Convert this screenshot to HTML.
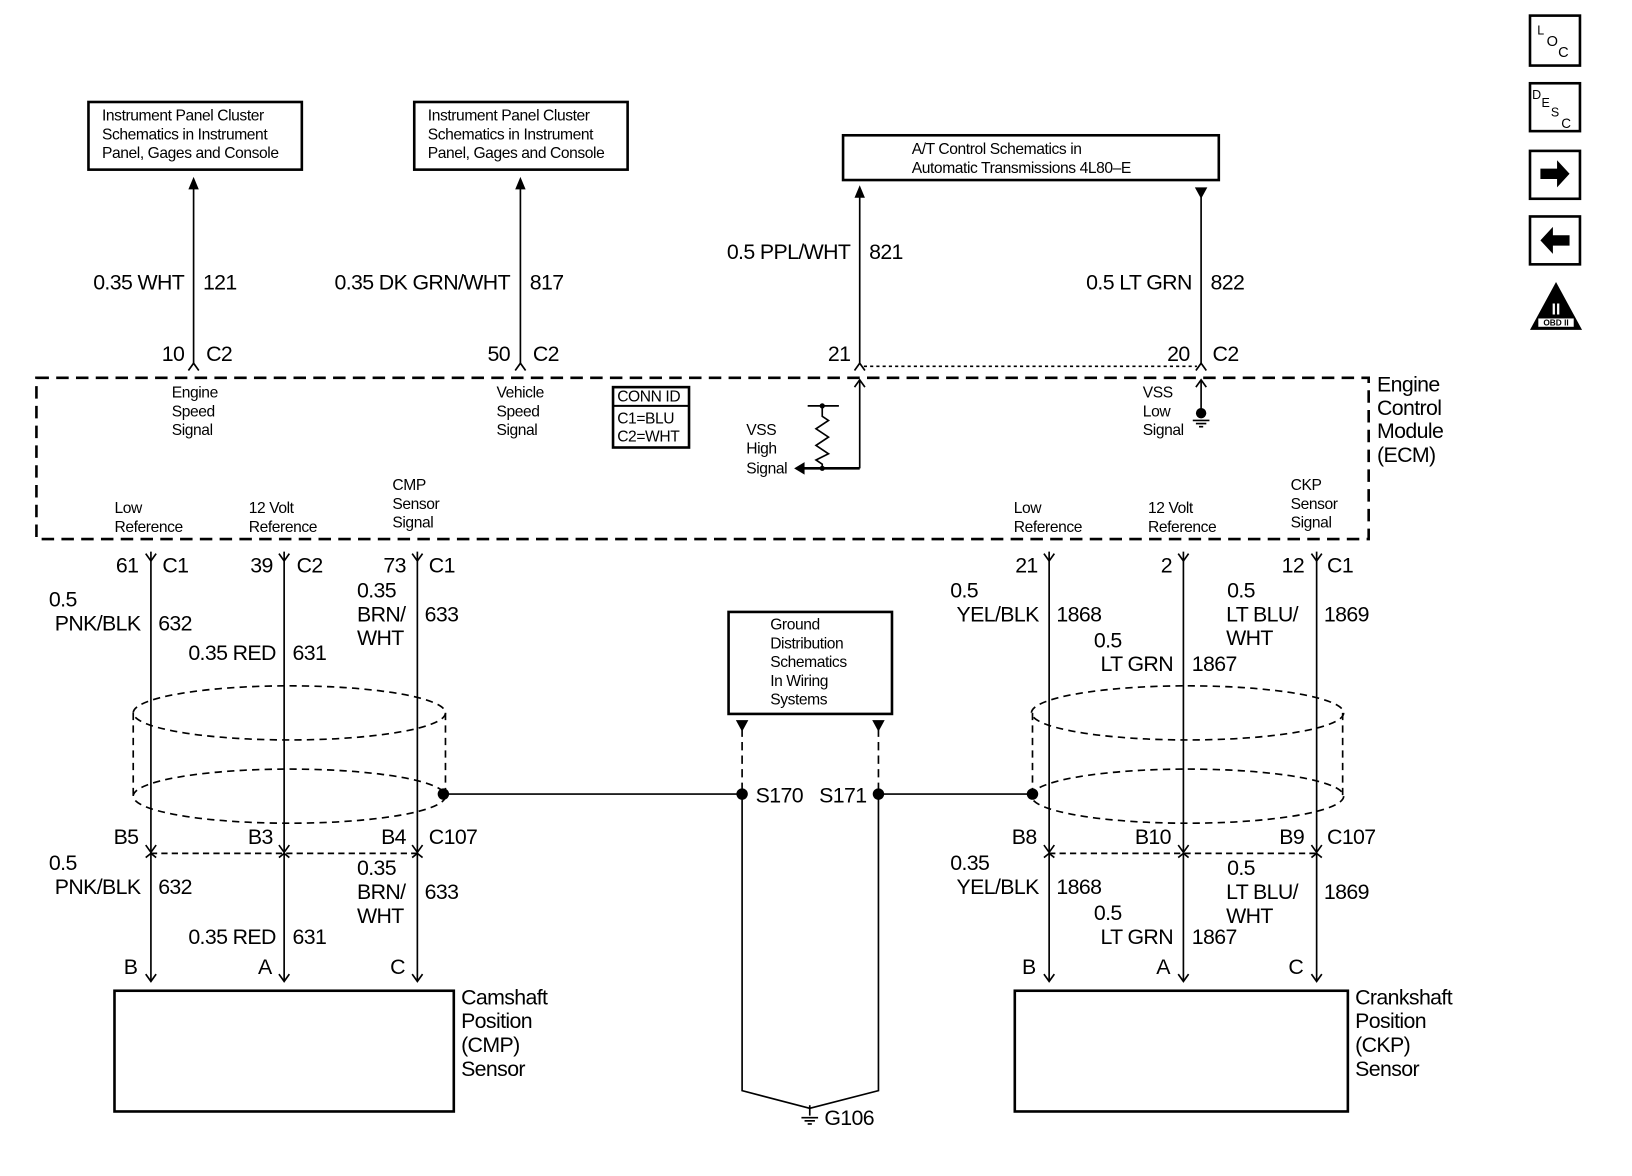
<!DOCTYPE html>
<html><head><meta charset="utf-8"><style>
html,body{margin:0;padding:0;background:#fff;}
svg{display:block}
text{font-family:"Liberation Sans",sans-serif;fill:#000}
.w{font-size:20.5px;letter-spacing:-0.6px}
.s{font-size:15px;letter-spacing:-0.4px}
</style></head><body>
<svg width="1632" height="1176" viewBox="0 0 1568 1130" preserveAspectRatio="none" xmlns="http://www.w3.org/2000/svg">
<g stroke="#000" stroke-width="1.6" fill="none">
<rect x="85" y="98" width="205" height="65" stroke-width="2.5"/>
<rect x="398" y="98" width="205" height="65" stroke-width="2.5"/>
<rect x="810" y="130" width="361" height="43" stroke-width="2.5"/>
<line x1="186" y1="174" x2="186" y2="350"/>
<line x1="500" y1="174" x2="500" y2="350"/>
<line x1="826" y1="182" x2="826" y2="350"/>
<line x1="1154" y1="182" x2="1154" y2="350"/>
<line x1="830" y1="352" x2="1150" y2="352" stroke-dasharray="3,3"/>
<path d="M181 356 L186 349 L191 356 M495 356 L500 349 L505 356 M821 356 L826 349 L831 356 M1149 356 L1154 349 L1159 356"/>
<rect x="35" y="363" width="1280" height="155" stroke-width="2.5" stroke-dasharray="12,7"/>
<rect x="589" y="372" width="73" height="58" stroke-width="2.5"/>
<line x1="589" y1="390" x2="662" y2="390" stroke-width="2"/>
<line x1="826" y1="366" x2="826" y2="450"/>
<path d="M821 372 L826 365 L831 372"/>
<line x1="770" y1="450" x2="826" y2="450" stroke-width="2.5"/>
<line x1="776" y1="390" x2="806" y2="390"/>
<path d="M790 390 L790 400 L796 404 L784 412 L796 420 L784 428 L796 436 L784 442 L790 446 L790 450"/>
<line x1="1154" y1="366" x2="1154" y2="396"/>
<path d="M1149 372 L1154 365 L1159 372"/>
<line x1="1146" y1="404" x2="1162" y2="404"/><line x1="1149" y1="407" x2="1159" y2="407"/><line x1="1152" y1="410" x2="1156" y2="410"/>
<line x1="145" y1="530" x2="145" y2="942"/>
<line x1="273" y1="530" x2="273" y2="942"/>
<line x1="401" y1="530" x2="401" y2="942"/>
<line x1="1008" y1="530" x2="1008" y2="942"/>
<line x1="1137" y1="530" x2="1137" y2="942"/>
<line x1="1265" y1="530" x2="1265" y2="942"/>
<path d="M140 532 L145 539 L150 532 M268 532 L273 539 L278 532 M396 532 L401 539 L406 532 M1003 532 L1008 539 L1013 532 M1132 532 L1137 539 L1142 532 M1260 532 L1265 539 L1270 532"/>
<path d="M140 812 L145 819 L150 812 M268 812 L273 819 L278 812 M396 812 L401 819 L406 812 M1003 812 L1008 819 L1013 812 M1132 812 L1137 819 L1142 812 M1260 812 L1265 819 L1270 812"/>
<path d="M140 824 L145 820 L150 824 M268 824 L273 820 L278 824 M396 824 L401 820 L406 824 M1003 824 L1008 820 L1013 824 M1132 824 L1137 820 L1142 824 M1260 824 L1265 820 L1270 824"/>
<path d="M140 936 L145 943 L150 936 M268 936 L273 943 L278 936 M396 936 L401 943 L406 936 M1003 936 L1008 943 L1013 936 M1132 936 L1137 943 L1142 936 M1260 936 L1265 943 L1270 936"/>
<line x1="145" y1="820" x2="401" y2="820" stroke-dasharray="6,4"/>
<line x1="1008" y1="820" x2="1265" y2="820" stroke-dasharray="6,4"/>
<g stroke-dasharray="7,5">
<ellipse cx="278" cy="685" rx="150" ry="26"/>
<ellipse cx="278" cy="765" rx="150" ry="26"/>
<line x1="128" y1="685" x2="128" y2="765"/>
<line x1="428" y1="685" x2="428" y2="765"/>
<ellipse cx="1141" cy="685" rx="150" ry="26"/>
<ellipse cx="1141" cy="765" rx="150" ry="26"/>
<line x1="992" y1="685" x2="992" y2="765"/>
<line x1="1290" y1="685" x2="1290" y2="765"/>
</g>
<line x1="426" y1="763" x2="713" y2="763"/>
<line x1="844" y1="763" x2="992" y2="763"/>
<rect x="700" y="588" width="157" height="98" stroke-width="2.5"/>
<line x1="713" y1="700" x2="713" y2="763" stroke-dasharray="8,5"/>
<line x1="844" y1="700" x2="844" y2="763" stroke-dasharray="8,5"/>
<path d="M713 763 L713 1048 L778 1065 M844 763 L844 1048 L778 1065"/>
<line x1="778" y1="1062" x2="778" y2="1072"/>
<line x1="770" y1="1074" x2="786" y2="1074"/><line x1="773" y1="1077" x2="783" y2="1077"/><line x1="776" y1="1080" x2="780" y2="1080"/>
<rect x="110" y="952" width="326" height="116" stroke-width="2.5"/>
<rect x="975" y="952" width="320" height="116" stroke-width="2.5"/>
<rect x="1470" y="15" width="48" height="48" stroke-width="2.5"/>
<rect x="1470" y="80" width="48" height="46" stroke-width="2.5"/>
<rect x="1470" y="145" width="48" height="46" stroke-width="2.5"/>
<rect x="1470" y="208" width="48" height="46" stroke-width="2.5"/>
</g>
<g fill="#000">
<path d="M181 182 L186 170 L191 182Z M495 182 L500 170 L505 182Z M821 190 L826 178 L831 190Z M1148 180 L1160 180 L1154 191Z"/>
<path d="M763 450 L773 444 L773 456Z"/>
<circle cx="790" cy="390" r="2.5"/><circle cx="790" cy="450" r="2.5"/>
<circle cx="1154" cy="397" r="5"/>
<circle cx="426" cy="763" r="5.5"/><circle cx="713" cy="763" r="5.5"/><circle cx="844" cy="763" r="5.5"/><circle cx="992" cy="763" r="5.5"/>
<path d="M707 692 L719 692 L713 703Z M838 692 L850 692 L844 703Z"/>
<path d="M1480 162 L1496 162 L1496 154 L1508 167 L1496 180 L1496 172 L1480 172Z"/>
<path d="M1508 226 L1492 226 L1492 218 L1480 231 L1492 244 L1492 236 L1508 236Z"/>
<path d="M1495 271 L1520 317 L1470 317Z"/>
</g>
<rect x="1478" y="306" width="34" height="8" fill="#fff"/>
<text x="1495" y="313" font-size="8" text-anchor="middle" style="font-weight:bold">OBD II</text>
<text x="1495" y="302" font-size="15" text-anchor="middle" style="fill:#fff;font-weight:bold">II</text>
<text x="1477" y="33" font-size="12">L</text><text x="1486" y="44" font-size="14">O</text><text x="1497" y="55" font-size="14">C</text>
<text x="1472" y="95" font-size="12">D</text><text x="1481" y="103" font-size="12">E</text><text x="1490" y="112" font-size="12">S</text><text x="1500" y="123" font-size="13">C</text>

<g class="s">
<text x="98" y="116">Instrument Panel Cluster</text><text x="98" y="134">Schematics in Instrument</text><text x="98" y="152">Panel, Gages and Console</text>
<text x="411" y="116">Instrument Panel Cluster</text><text x="411" y="134">Schematics in Instrument</text><text x="411" y="152">Panel, Gages and Console</text>
<text x="876" y="148">A/T Control Schematics in</text><text x="876" y="166">Automatic Transmissions 4L80–E</text>
<text x="165" y="382">Engine</text><text x="165" y="400">Speed</text><text x="165" y="418">Signal</text>
<text x="477" y="382">Vehicle</text><text x="477" y="400">Speed</text><text x="477" y="418">Signal</text>
<text x="593" y="386">CONN ID</text><text x="593" y="407">C1=BLU</text><text x="593" y="424">C2=WHT</text>
<text x="717" y="418">VSS</text><text x="717" y="436">High</text><text x="717" y="455">Signal</text>
<text x="1098" y="382">VSS</text><text x="1098" y="400">Low</text><text x="1098" y="418">Signal</text>
<text x="110" y="493">Low</text><text x="110" y="511">Reference</text>
<text x="239" y="493">12 Volt</text><text x="239" y="511">Reference</text>
<text x="377" y="471">CMP</text><text x="377" y="489">Sensor</text><text x="377" y="507">Signal</text>
<text x="974" y="493">Low</text><text x="974" y="511">Reference</text>
<text x="1103" y="493">12 Volt</text><text x="1103" y="511">Reference</text>
<text x="1240" y="471">CKP</text><text x="1240" y="489">Sensor</text><text x="1240" y="507">Signal</text>
<text x="740" y="605">Ground</text><text x="740" y="623">Distribution</text><text x="740" y="641">Schematics</text><text x="740" y="659">In Wiring</text><text x="740" y="677">Systems</text>
</g>
<g class="w">
<text x="177" y="278" text-anchor="end">0.35 WHT</text><text x="195" y="278">121</text>
<text x="490" y="278" text-anchor="end">0.35 DK GRN/WHT</text><text x="509" y="278">817</text>
<text x="817" y="249" text-anchor="end">0.5 PPL/WHT</text><text x="835" y="249">821</text>
<text x="1145" y="278" text-anchor="end">0.5 LT GRN</text><text x="1163" y="278">822</text>
<text x="177" y="347" text-anchor="end">10</text><text x="198" y="347">C2</text>
<text x="490" y="347" text-anchor="end">50</text><text x="512" y="347">C2</text>
<text x="817" y="347" text-anchor="end">21</text>
<text x="1143" y="347" text-anchor="end">20</text><text x="1165" y="347">C2</text>
<text x="1323" y="376">Engine</text><text x="1323" y="399">Control</text><text x="1323" y="421">Module</text><text x="1323" y="444">(ECM)</text>

<text x="133" y="550" text-anchor="end">61</text><text x="156" y="550">C1</text>
<text x="262" y="550" text-anchor="end">39</text><text x="285" y="550">C2</text>
<text x="390" y="550" text-anchor="end">73</text><text x="412" y="550">C1</text>
<text x="997" y="550" text-anchor="end">21</text>
<text x="1126" y="550" text-anchor="end">2</text>
<text x="1253" y="550" text-anchor="end">12</text><text x="1275" y="550">C1</text>

<text x="47" y="583">0.5</text><text x="135" y="606" text-anchor="end">PNK/BLK</text><text x="152" y="606">632</text>
<text x="265" y="634" text-anchor="end">0.35 RED</text><text x="281" y="634">631</text>
<text x="343" y="574">0.35</text><text x="343" y="597">BRN/</text><text x="343" y="620">WHT</text><text x="408" y="597">633</text>
<text x="913" y="574">0.5</text><text x="998" y="597" text-anchor="end">YEL/BLK</text><text x="1015" y="597">1868</text>
<text x="1051" y="622">0.5</text><text x="1127" y="645" text-anchor="end">LT GRN</text><text x="1145" y="645">1867</text>
<text x="1179" y="574">0.5</text><text x="1178" y="597">LT BLU/</text><text x="1178" y="620">WHT</text><text x="1272" y="597">1869</text>

<text x="726" y="771">S170</text><text x="787" y="771">S171</text>

<text x="133" y="811" text-anchor="end">B5</text>
<text x="262" y="811" text-anchor="end">B3</text>
<text x="390" y="811" text-anchor="end">B4</text><text x="412" y="811">C107</text>
<text x="996" y="811" text-anchor="end">B8</text>
<text x="1125" y="811" text-anchor="end">B10</text>
<text x="1253" y="811" text-anchor="end">B9</text><text x="1275" y="811">C107</text>

<text x="47" y="836">0.5</text><text x="135" y="859" text-anchor="end">PNK/BLK</text><text x="152" y="859">632</text>
<text x="265" y="907" text-anchor="end">0.35 RED</text><text x="281" y="907">631</text>
<text x="343" y="841">0.35</text><text x="343" y="864">BRN/</text><text x="343" y="887">WHT</text><text x="408" y="864">633</text>
<text x="913" y="836">0.35</text><text x="998" y="859" text-anchor="end">YEL/BLK</text><text x="1015" y="859">1868</text>
<text x="1051" y="884">0.5</text><text x="1127" y="907" text-anchor="end">LT GRN</text><text x="1145" y="907">1867</text>
<text x="1179" y="841">0.5</text><text x="1178" y="864">LT BLU/</text><text x="1178" y="887">WHT</text><text x="1272" y="864">1869</text>

<text x="132" y="936" text-anchor="end">B</text><text x="261" y="936" text-anchor="end">A</text><text x="389" y="936" text-anchor="end">C</text>
<text x="995" y="936" text-anchor="end">B</text><text x="1124" y="936" text-anchor="end">A</text><text x="1252" y="936" text-anchor="end">C</text>

<text x="443" y="965">Camshaft</text><text x="443" y="988">Position</text><text x="443" y="1011">(CMP)</text><text x="443" y="1034">Sensor</text>
<text x="1302" y="965">Crankshaft</text><text x="1302" y="988">Position</text><text x="1302" y="1011">(CKP)</text><text x="1302" y="1034">Sensor</text>
<text x="792" y="1081">G106</text>
</g>
</svg>
</body></html>
